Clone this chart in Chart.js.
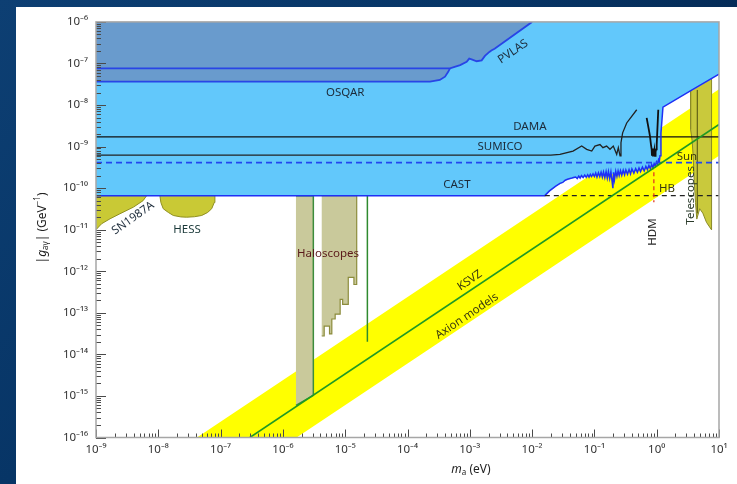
<!DOCTYPE html>
<html><head><meta charset="utf-8">
<script src="https://cdn.jsdelivr.net/npm/chart.js@4.4.1/dist/chart.umd.min.js"></script>
<style>
html,body{margin:0;padding:0;width:737px;height:484px;overflow:hidden;}
body{background:linear-gradient(135deg,#0d3f73 0%,#073566 40%,#03264e 75%,#021b3a 100%);}
#wrap{position:absolute;left:16px;top:7px;width:721px;height:477px;background:#fff;}
canvas{display:block;}
</style></head><body>
<div id="wrap"><canvas id="c" width="721" height="477"></canvas></div>
<script>
// ---------- data (m_a in eV, |g| in GeV^-1) ----------
const X_DECADES = [-9,-8,-7,-6,-5,-4,-3,-2,-1,0,1];
const Y_DECADES = [-16,-15,-14,-13,-12,-11,-10,-9,-8,-7,-6];

const AXION_BAND = [[4.17e-8,1e-16],[10,2.4e-8],[10,6.0e-10],[1.66e-6,1e-16]];
const KSVZ = [[2.95e-7,1e-16],[10,3.4e-9]];

const HELIO_REGION = [[1e-9,1e-6],[10,1e-6],[10,5.5e-8],[3.42,2.15e-8],[1.26,8.9e-9],[1.17,2.1e-9],[1.13,4.5e-10],
  [1.0,3.9e-10],[0.7,3.0e-10],[0.45,2.6e-10],[0.2,2.2e-10],[0.1,2.05e-10],[0.06,1.85e-10],[0.036,1.6e-10],
  [0.031,1.35e-10],[0.024,1.1e-10],[0.016,6.6e-11],[1e-9,6.6e-11]];

const LSW_REGION = [[1e-9,1e-6],[0.01,1e-6],[2.5e-3,2.27e-7],[2.25e-3,2.07e-7],[2.06e-3,1.9e-7],[1.75e-3,1.52e-7],
  [1.55e-3,1.19e-7],[1.29e-3,1.13e-7],[1.07e-3,1.26e-7],[9.8e-4,1.31e-7],[8.9e-4,1.09e-7],[7.0e-4,9.1e-8],
  [4.8e-4,7.6e-8],[4.5e-4,6.3e-8],[4.0e-4,4.8e-8],[3.3e-4,4.0e-8],[2.3e-4,3.66e-8],[1e-9,3.66e-8]];

const PVLAS = [[1e-9,7.6e-8],[4.8e-4,7.6e-8],[7.0e-4,9.1e-8],[8.9e-4,1.09e-7],[9.8e-4,1.31e-7],[1.07e-3,1.26e-7],
  [1.29e-3,1.13e-7],[1.55e-3,1.19e-7],[1.75e-3,1.52e-7],[2.06e-3,1.9e-7],[2.25e-3,2.07e-7],[2.5e-3,2.27e-7],[0.01,1e-6]];
const OSQAR = [[1e-9,3.66e-8],[2.3e-4,3.66e-8],[3.3e-4,4.0e-8],[4.0e-4,4.8e-8],[4.5e-4,6.3e-8],[4.8e-4,7.6e-8]];

const CAST = [[1e-9,6.6e-11],[0.016,6.6e-11],[0.019,8.6e-11],[0.024,1.12e-10],[0.028,1.3e-10],[0.031,1.37e-10],
  [0.034,1.55e-10],[0.037,1.64e-10],[0.042,1.72e-10],[0.046,1.8e-10],
  [0.050,1.85e-10],[0.053,1.7e-10],[0.056,1.95e-10],[0.059,1.75e-10],[0.062,2.0e-10],[0.066,1.8e-10],
  [0.070,2.05e-10],[0.074,1.82e-10],[0.078,2.1e-10],[0.082,1.85e-10],[0.086,2.15e-10],[0.090,1.9e-10],
  [0.095,2.2e-10],[0.10,1.9e-10],[0.105,2.3e-10],[0.11,1.85e-10],[0.116,2.35e-10],[0.122,1.9e-10],
  [0.128,2.4e-10],[0.134,1.85e-10],[0.14,2.45e-10],[0.147,1.8e-10],[0.154,2.5e-10],[0.161,1.75e-10],
  [0.168,2.5e-10],[0.176,1.7e-10],[0.184,2.45e-10],[0.192,1.5e-10],[0.198,1.0e-10],[0.203,2.4e-10],
  [0.21,1.6e-10],[0.22,2.55e-10],[0.23,1.9e-10],[0.24,2.6e-10],[0.25,2.0e-10],[0.262,2.65e-10],
  [0.275,2.05e-10],[0.29,2.7e-10],[0.305,2.1e-10],[0.32,2.75e-10],[0.34,2.15e-10],[0.36,2.8e-10],
  [0.38,2.2e-10],[0.40,2.9e-10],[0.43,2.3e-10],[0.46,2.95e-10],[0.49,2.4e-10],[0.52,3.05e-10],
  [0.55,2.5e-10],[0.59,3.2e-10],[0.63,2.6e-10],[0.67,3.35e-10],[0.71,2.8e-10],[0.75,3.5e-10],
  [0.79,2.95e-10],[0.83,3.7e-10],[0.87,3.1e-10],[0.91,3.9e-10],[0.95,3.4e-10],[0.99,4.3e-10],
  [1.03,3.8e-10],[1.07,4.8e-10],[1.1,4.4e-10],[1.13,6.0e-10],
  [1.17,2.1e-9],[1.26,8.9e-9],[3.42,2.15e-8],[10,5.5e-8]];

const DAMA = [[1e-9,1.72e-9],[10,1.72e-9]];
const SUMICO_A = [[1e-9,6.2e-10],[0.02,6.2e-10],[0.028,6.5e-10],[0.0454,7.8e-10],[0.0625,1.03e-9],[0.0752,8.6e-10],
  [0.0906,7.8e-10],[0.102,1.03e-9],[0.123,1.12e-9],[0.137,9.4e-10],[0.157,1.03e-9],[0.178,8.6e-10],
  [0.201,1.03e-9],[0.228,6.5e-10],[0.242,9.4e-10],[0.258,5.96e-10],[0.267,1.24e-9],[0.284,2.14e-9],
  [0.33,3.7e-9],[0.478,7.7e-9]];
const SUMICO_B = [[0.69,4.9e-9],[0.75,2.5e-9],[0.78,1.79e-9],[0.81,1.1e-9],[0.83,8.6e-10],[0.84,6e-10],
  [0.86,9e-10],[0.87,5.8e-10],[0.89,8.5e-10],[0.9,5.8e-10],[0.92,8e-10],[0.94,5.96e-10],[0.96,7.5e-10],
  [0.98,8.6e-10],[1.0,1.1e-9],[1.02,2.14e-9],[1.06,7.7e-9]];
const SUN = [[1e-9,4.1e-10],[10,4.1e-10]];
const HB = [[0.016,6.6e-11],[10,6.6e-11]];
const HDM = [[0.9,2.4e-10],[0.9,4.6e-11]];

const SN1987A = [[1e-9,6.6e-11],[6.5e-9,6.6e-11],[5.7e-9,5.0e-11],[4.0e-9,3.5e-11],[2.4e-9,2.4e-11],
  [1.68e-9,1.83e-11],[1.23e-9,1.39e-11],[1e-9,1.0e-11]];
const HESS = [[1.06e-8,6.6e-11],[1.1e-8,4.5e-11],[1.2e-8,3.2e-11],[1.45e-8,2.6e-11],[1.74e-8,2.2e-11],
  [2.3e-8,2.03e-11],[2.86e-8,2.0e-11],[3.8e-8,2.05e-11],[4.98e-8,2.2e-11],[6.2e-8,2.6e-11],
  [7.2e-8,3.2e-11],[7.9e-8,4.5e-11],[8.1e-8,6.6e-11]];
const HALO_1 = [[1.62e-6,6.6e-11],[3.08e-6,6.6e-11],[3.08e-6,1.03e-15],[1.62e-6,5.96e-16]];
const HALO_2 = [[4.2e-6,6.6e-11],[1.53e-5,6.6e-11],[1.53e-5,4.8e-13],[1.38e-5,4.8e-13],[1.38e-5,7.1e-13],
  [1.12e-5,7.1e-13],[1.12e-5,1.6e-13],[9.1e-6,1.6e-13],[9.1e-6,2.1e-13],[8.3e-6,2.1e-13],[8.3e-6,9.3e-14],
  [6.9e-6,9.3e-14],[6.9e-6,7.1e-14],[6.1e-6,7.1e-14],[6.1e-6,3.1e-14],[5.6e-6,3.1e-14],[5.6e-6,4.8e-14],
  [4.6e-6,4.8e-14],[4.6e-6,2.77e-14],[4.2e-6,2.77e-14]];
const HALO_3 = [[2.27e-5,6.6e-11],[2.27e-5,2.0e-14]];
const TELESCOPES = [[3.5,2.15e-8],[3.5,2.6e-9],[3.7,1.4e-9],[3.85,6e-10],[4.0,1.5e-10],[4.2,4.5e-11],
  [4.4,1.8e-11],[4.9,3.2e-11],[5.5,2.5e-11],[6.3,1.5e-11],[7.6,9.9e-12],[7.6,4.3e-8]];
const TELESCOPES_INNER = [[4.5,2.3e-8],[4.5,2.5e-11]];

const LABELS = [
  {t:'OSQAR', m:1e-5, g:2.03e-8, rot:0, c:'#1c2b3a'},
  {t:'PVLAS', m:4.93e-3, g:1.93e-7, rot:-34, c:'#1c2b3a'},
  {t:'DAMA', m:9.2e-3, g:2.97e-9, rot:0, c:'#1c2b3a'},
  {t:'SUMICO', m:3.05e-3, g:9.9e-10, rot:0, c:'#1c2b3a'},
  {t:'CAST', m:6.2e-4, g:1.23e-10, rot:0, c:'#1c2b3a'},
  {t:'Sun', m:3.06, g:5.7e-10, rot:0, c:'#3a3a10'},
  {t:'HB', m:1.46, g:9.9e-11, rot:0, c:'#3a3a10'},
  {t:'HDM', m:0.873, g:8.8e-12, rot:-90, c:'#2a2a2a'},
  {t:'Telescopes', m:3.56, g:6.7e-11, rot:-90, c:'#2a3a2a'},
  {t:'SN1987A', m:3.93e-9, g:1.9e-11, rot:-35, c:'#1c2b3a'},
  {t:'HESS', m:2.89e-8, g:9.9e-12, rot:0, c:'#1c3a3a'},
  {t:'Haloscopes', m:5.3e-6, g:2.64e-12, rot:0, c:'#5a1a1a'},
  {t:'KSVZ', m:1.0e-3, g:6.0e-13, rot:-34, c:'#3a3a10'},
  {t:'Axion models', m:9.0e-4, g:8.3e-14, rot:-34, c:'#3a3a10'}
];

// ---------- helpers ----------
const SUP = {'-':'⁻','0':'⁰','1':'¹','2':'²','3':'³','4':'⁴','5':'⁵','6':'⁶','7':'⁷','8':'⁸','9':'⁹'};
const supStr = n => String(n).split('').map(ch => SUP[ch]).join('');
const isPow = v => Math.abs(Math.log10(v) - Math.round(Math.log10(v))) < 1e-6;
function tickList(decades){
  const out = [];
  for (let i = 0; i < decades.length - 1; i++)
    for (let k = 1; k <= 9; k++) out.push({value: k * Math.pow(10, decades[i])});
  out.push({value: Math.pow(10, decades[decades.length - 1])});
  return out;
}
const pts = a => a.map(([m, g]) => ({x: m, y: g}));
function poly(d, fill, border, bw, order){
  return {data: pts(d), showLine: true, fill: 'shape', backgroundColor: fill, borderColor: border,
          borderWidth: bw, pointRadius: 0, tension: 0, order};
}
function line(d, color, bw, dash, order){
  return {data: pts(d), showLine: true, fill: false, borderColor: color, borderWidth: bw,
          borderDash: dash || [], pointRadius: 0, tension: 0, order};
}

const datasets = [
  poly(AXION_BAND, '#ffff00', 'rgba(0,0,0,0)', 0, 100),
  poly(HELIO_REGION, '#62c8fb', 'rgba(0,0,0,0)', 0, 95),
  poly(LSW_REGION, '#699bcd', 'rgba(0,0,0,0)', 0, 90),
  poly(TELESCOPES, '#c9c93c', '#8a8a28', 1, 85),
  line(TELESCOPES_INNER, '#6a6a1a', 1, [], 84),
  line(PVLAS, '#2845e6', 1.8, [], 80),
  line(OSQAR, '#2845e6', 1.8, [], 79),
  poly(SN1987A, '#c9c935', '#8f8f20', 1, 70),
  poly(HESS, '#c9c935', '#8f8f20', 1, 69),
  poly(HALO_1, '#c9c99b', '#3c8c3c', 1.5, 68),
  poly(HALO_2, '#c9c99b', '#8c8c3c', 1.2, 67),
  line(HALO_3, '#2e8a2e', 1.5, [], 66),
  line(DAMA, '#111111', 1.3, [], 60),
  line(SUMICO_A, '#222222', 1.3, [], 59),
  line(SUMICO_B, '#111111', 1.8, [], 58),
  line(CAST, '#1e30f5', 1.5, [], 55),
  line(HB, '#222222', 1.3, [5, 4], 50),
  line(HDM, '#e33a22', 1.3, [4, 3], 49),
  line(SUN, '#2246ee', 1.6, [6, 4], 48),
  line(KSVZ, '#1f9a24', 1.6, [], 40)
];

const FONT = '"Noto Sans", "DejaVu Sans", sans-serif';
function drawSegs(ctx, segs){
  let total = 0;
  segs.forEach(s => { ctx.font = s.f; s.w = ctx.measureText(s.t).width; total += s.w; });
  let cx = -total / 2;
  segs.forEach(s => { ctx.font = s.f; ctx.fillText(s.t, cx, s.dy || 0); cx += s.w; });
}

const overlay = {
  id: 'overlay',
  afterDatasetsDraw(chart){
    const {ctx, scales: {x, y}, chartArea: a} = chart;
    ctx.save();
    ctx.strokeStyle = '#4a4a4a'; ctx.lineWidth = 1;
    x.ticks.forEach(t => {
      const px = Math.round(x.getPixelForValue(t.value)) + 0.5;
      const L = isPow(t.value) ? 8 : 4;
      ctx.beginPath(); ctx.moveTo(px, a.bottom); ctx.lineTo(px, a.bottom - L); ctx.stroke();
    });
    y.ticks.forEach(t => {
      const py = Math.round(y.getPixelForValue(t.value)) + 0.5;
      const L = isPow(t.value) ? 10 : 5;
      ctx.beginPath(); ctx.moveTo(a.left, py); ctx.lineTo(a.left + L, py); ctx.stroke();
    });
    ctx.strokeStyle = '#a6a6a6'; ctx.lineWidth = 1.5;
    ctx.strokeRect(a.left, a.top, a.right - a.left, a.bottom - a.top);
    ctx.textAlign = 'center'; ctx.textBaseline = 'middle';
    ctx.font = '11.5px ' + FONT;
    LABELS.forEach(l => {
      ctx.save();
      ctx.translate(x.getPixelForValue(l.m), y.getPixelForValue(l.g));
      ctx.rotate(l.rot * Math.PI / 180);
      ctx.fillStyle = l.c;
      ctx.fillText(l.t, 0, 0);
      ctx.restore();
    });
    // axis titles
    ctx.fillStyle = '#222';
    ctx.textAlign = 'left'; ctx.textBaseline = 'middle';
    ctx.save();
    ctx.translate(27, 221); ctx.rotate(-Math.PI / 2);
    drawSegs(ctx, [
      {t: '|', f: '12px ' + FONT}, {t: 'g', f: 'italic 12px ' + FONT},
      {t: 'aγ', f: '8px ' + FONT, dy: 3}, {t: '| (GeV', f: '12px ' + FONT},
      {t: '−1', f: '8px ' + FONT, dy: -5}, {t: ')', f: '12px ' + FONT}
    ]);
    ctx.restore();
    ctx.save();
    ctx.translate(455, 463);
    drawSegs(ctx, [
      {t: 'm', f: 'italic 12px ' + FONT}, {t: 'a', f: '8px ' + FONT, dy: 3},
      {t: ' (eV)', f: '12px ' + FONT}
    ]);
    ctx.restore();
    ctx.restore();
  }
};

new Chart(document.getElementById('c'), {
  type: 'scatter',
  data: {datasets},
  options: {
    responsive: false, animation: false,
    layout: {padding: {top: 11, right: 18, left: 0, bottom: 0}},
    plugins: {legend: {display: false}, tooltip: {enabled: false}},
    scales: {
      x: {
        type: 'logarithmic', min: 1e-9, max: 10,
        afterBuildTicks: s => { s.ticks = tickList(X_DECADES); },
        afterFit: s => { s.height = 46.5; },
        grid: {display: false, drawTicks: false}, border: {display: false},
        ticks: {autoSkip: false, maxRotation: 0, padding: 5, color: '#333', font: {size: 11.5, family: FONT},
          callback: v => isPow(v) ? '10' + supStr(Math.round(Math.log10(v))) : ''}
      },
      y: {
        type: 'logarithmic', min: 1e-16, max: 1e-6,
        afterBuildTicks: s => { s.ticks = tickList(Y_DECADES); },
        afterFit: s => { s.width = 80; },
        grid: {display: false, drawTicks: false}, border: {display: false},
        ticks: {autoSkip: false, padding: 8, color: '#333', font: {size: 11.5, family: FONT},
          callback: v => isPow(v) ? '10' + supStr(Math.round(Math.log10(v))) : ''}
      }
    }
  },
  plugins: [overlay]
});
</script></body></html>
